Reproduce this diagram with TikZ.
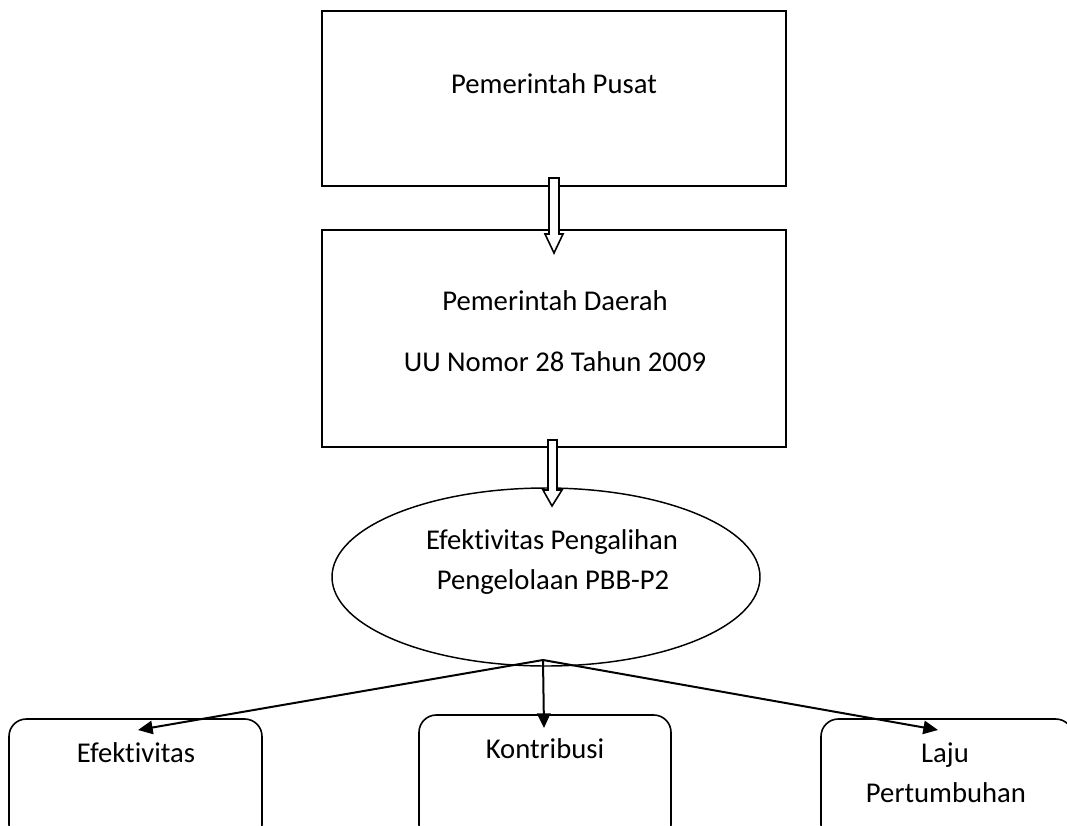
\documentclass[tikz,border=0pt]{standalone}
\usepackage{fontspec}
\setmainfont{Carlito}[Ligatures=NoCommon]
\usetikzlibrary{shapes.geometric,arrows.meta}
\tikzset{
  sqbox/.style={draw,line width=1.3pt,rectangle,inner sep=0pt},
  rbox/.style={draw,line width=1.2pt,rounded corners=13pt},
  lbl/.style={anchor=base,inner sep=0pt,font=\fontsize{21.5}{26}\selectfont},
  blockarrow/.style={draw,fill=white,line width=1.2pt,line join=miter},
  conn/.style={line width=1.5pt,-{Triangle[length=11pt,width=10pt]}}
}
\begin{document}
\begin{tikzpicture}[x=0.75pt,y=-0.75pt]
\useasboundingbox (0,0) rectangle (1067,825);
% top boxes
\node[sqbox,minimum width=348pt,minimum height=131.25pt] (pusat) at (554,98.5) {};
\node[sqbox,minimum width=348pt,minimum height=162.75pt] (daerah) at (554,338.5) {};
\node[lbl] (tpusat) at (554,93) {Pemerintah Pusat};
\node[lbl] (tdaerah) at (555,310) {Pemerintah Daerah};
\node[lbl] (tuu) at (555,371) {UU Nomor 28 Tahun 2009};
% ellipse
\node[draw,ellipse,line width=1.1pt,inner sep=0pt,minimum width=321pt,minimum height=133.5pt] (efek) at (546,577) {};
\node[lbl] (te1) at (552,549) {Efektivitas Pengalihan};
\node[lbl] (te2) at (553,589) {Pengelolaan PBB-P2};
% bottom boxes
\draw[rbox] (9,719) rectangle (262,842);
\draw[rbox] (419,715) rectangle (671,842);
\draw[rbox] (821,719) rectangle (1073,842);
\node[lbl] (tb1) at (136,762) {Efektivitas};
\node[lbl] (tb2) at (545,758) {Kontribusi};
\node[lbl] (tb3a) at (945,762) {Laju};
\node[lbl] (tb3b) at (946,802) {Pertumbuhan};
% block arrows
\draw[blockarrow] (549,178) -- (559,178) -- (559,234) -- (563,234) -- (554,253) -- (545,234) -- (549,234) -- cycle;
\draw[blockarrow] (548,440) -- (557,440) -- (557,490) -- (562,490) -- (552,506) -- (543,490) -- (548,490) -- cycle;
% connectors
\coordinate (src) at (543,660);
\coordinate (e1) at (138,730);
\coordinate (e2) at (544,728);
\coordinate (e3) at (938,730);
\draw[conn] (src) -- (e1);
\draw[conn] (src) -- (e2);
\draw[conn] (src) -- (e3);
\end{tikzpicture}
\end{document}
